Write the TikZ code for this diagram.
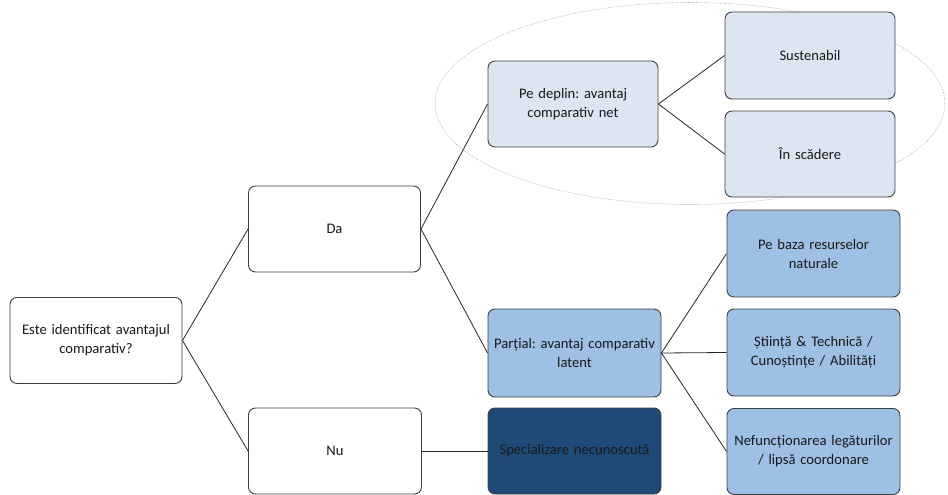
\documentclass[tikz,border=0pt]{standalone}
\usepackage{fontspec}
\setmainfont{Carlito}
\begin{document}
\frenchspacing
\begin{tikzpicture}[x=1pt,y=-1pt,
  box/.style={draw=black!75, line width=0.9pt, rounded corners=7pt, inner sep=2pt, align=center,
    font=\fontsize{14.6}{19}\selectfont, text=black!90},
  wbox/.style={box, fill=white},
  lbox/.style={box, fill=lightblue},
  mbox/.style={box, fill=midblue},
  dbox/.style={box, fill=darkblue},
  conn/.style={draw=black!85, line width=0.8pt}]
\definecolor{lightblue}{HTML}{DCE6F2}
\definecolor{midblue}{HTML}{9DC0E4}
\definecolor{darkblue}{HTML}{1F4A78}
\useasboundingbox (0,0) rectangle (948,495);
\draw[gray!70, line width=0.6pt, densely dotted] (690,103.5) ellipse [x radius=255, y radius=101];
\newcommand\mybox[7]{\node[#1, minimum width=#4, minimum height=#5, text width=#4-4pt] (#2) at (#3) {#6};}
\mybox{wbox}{q}{96,340.5}{172pt}{86pt}{Este identificat avantajul\\comparativ?}{}
\mybox{wbox}{da}{334.5,229}{172pt}{86pt}{Da}{}
\mybox{wbox}{nu}{335,451}{173pt}{86pt}{Nu}{}
\mybox{lbox}{pd}{573,104}{170pt}{86pt}{Pe deplin: avantaj\\comparativ net}{}
\mybox{lbox}{su}{810,55.5}{170pt}{87pt}{Sustenabil}{}
\mybox{lbox}{is}{810,154}{170pt}{86pt}{În scădere}{}
\mybox{mbox}{pa}{574.5,353}{173pt}{88pt}{Parțial: avantaj comparativ\\latent}{}
\mybox{dbox}{sp}{574.5,451}{173pt}{86pt}{Specializare necunoscută}{}
\mybox{mbox}{pb}{813.5,253.5}{173pt}{87pt}{Pe baza resurselor\\naturale}{}
\mybox{mbox}{st}{813.5,352.5}{173pt}{87pt}{Știință \& Technică /\\Cunoștințe / Abilități}{}
\mybox{mbox}{ne}{813.5,451.5}{173pt}{86pt}{Nefuncționarea legăturilor\\/ lipsă coordonare}{}
\draw[conn] (q.east) -- (da.west);
\draw[conn] (q.east) -- (nu.west);
\draw[conn] (da.east) -- (pd.west);
\draw[conn] (da.east) -- (pa.west);
\draw[conn] (nu.east) -- (sp.west);
\draw[conn] (pd.east) -- (su.west);
\draw[conn] (pd.east) -- (is.west);
\draw[conn] (pa.east) -- (pb.west);
\draw[conn] (pa.east) -- (st.west);
\draw[conn] (pa.east) -- (ne.west);
\end{tikzpicture}
\end{document}
